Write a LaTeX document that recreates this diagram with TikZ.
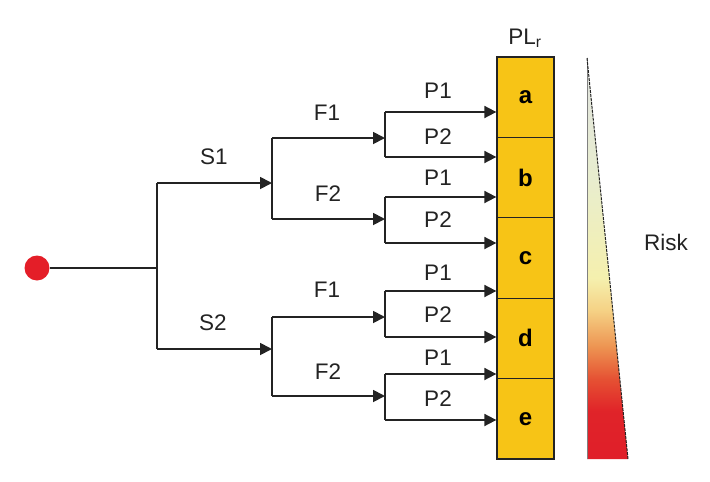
\documentclass[tikz,border=0pt]{standalone}
\usepackage{fontspec}
\setmainfont{Liberation Sans}
\usetikzlibrary{arrows.meta}
\definecolor{boxyellow}{RGB}{247,196,22}
\definecolor{dotred}{RGB}{228,30,40}
\definecolor{linegray}{RGB}{35,35,35}
\pgfdeclareverticalshading{riskshade}{100bp}{rgb(0bp)=(0.88,0.12,0.16); rgb(25bp)=(0.88,0.12,0.16); rgb(31bp)=(0.88,0.14,0.16); rgb(35bp)=(0.90,0.32,0.20); rgb(39bp)=(0.93,0.58,0.32); rgb(43.5bp)=(0.96,0.82,0.52); rgb(47.5bp)=(0.96,0.94,0.68); rgb(60bp)=(0.91,0.93,0.81); rgb(75bp)=(0.88,0.89,0.88); rgb(100bp)=(0.88,0.89,0.88)}
\begin{document}
\begin{tikzpicture}[x=1pt,y=-1pt,
  conn/.style={line width=1.8pt, draw=linegray},
  arr/.style={conn, -{Triangle[length=12pt,width=12pt]}},
  lbl/.style={font=\fontsize{22.5}{26}\selectfont, text=linegray, inner sep=0pt},
  plbox/.style={draw=linegray, line width=1.3pt, fill=boxyellow, minimum width=57pt, minimum height=80.4pt, inner sep=0pt, font=\bfseries\fontsize{24}{28}\selectfont}]
\useasboundingbox (0,0) rectangle (710,482);

% PL boxes
\node[plbox] (ba) at (525.5,97.2) {a};
\node[plbox] (bb) at (525.5,177.6) {b};
\node[plbox] (bc) at (525.5,258) {c};
\node[plbox] (bd) at (525.5,338.4) {d};
\node[plbox] (be) at (525.5,418.8) {e};
\node[lbl] (plr) at (525,38) {PL\textsubscript{r}};

% start
\node[circle, fill=dotred, minimum size=25pt, inner sep=0pt] (start) at (37,268) {};
\coordinate (j0) at (157,268);
\coordinate (s1) at (157,183);
\coordinate (s2) at (157,349);
\draw[conn] (start) -- (j0);
\draw[conn] (s1) -- (s2);

% F level junctions
\coordinate (fa) at (272,183);
\coordinate (fb) at (272,349);
\draw[arr] (s1) -- (fa);
\draw[arr] (s2) -- (fb);
\coordinate (fa1) at (272,138);
\coordinate (fa2) at (272,219);
\coordinate (fb1) at (272,317);
\coordinate (fb2) at (272,396);
\draw[conn] (fa1) -- (fa2);
\draw[conn] (fb1) -- (fb2);

% P level junctions
\coordinate (pa1) at (385,138);
\coordinate (pa2) at (385,219);
\coordinate (pb1) at (385,317);
\coordinate (pb2) at (385,396);
\draw[arr] (fa1) -- (pa1);
\draw[arr] (fa2) -- (pa2);
\draw[arr] (fb1) -- (pb1);
\draw[arr] (fb2) -- (pb2);

\coordinate (q1) at (385,112);
\coordinate (q2) at (385,157);
\coordinate (q3) at (385,197);
\coordinate (q4) at (385,243);
\coordinate (q5) at (385,291);
\coordinate (q6) at (385,337);
\coordinate (q7) at (385,374);
\coordinate (q8) at (385,420);
\draw[conn] (q1) -- (q2);
\draw[conn] (q3) -- (q4);
\draw[conn] (q5) -- (q6);
\draw[conn] (q7) -- (q8);
\draw[arr] (q1) -- (ba.west |- q1);
\draw[arr] (q2) -- (bb.west |- q2);
\draw[arr] (q3) -- (bb.west |- q3);
\draw[arr] (q4) -- (bc.west |- q4);
\draw[arr] (q5) -- (bc.west |- q5);
\draw[arr] (q6) -- (bd.west |- q6);
\draw[arr] (q7) -- (bd.west |- q7);
\draw[arr] (q8) -- (be.west |- q8);

% labels
\node[lbl] (ls1) at (214,157) {S1};
\node[lbl] (ls2) at (213,323) {S2};
\node[lbl] (lf1a) at (327,113) {F1};
\node[lbl] (lf2a) at (328,194) {F2};
\node[lbl] (lf1b) at (327,290) {F1};
\node[lbl] (lf2b) at (328,372) {F2};
\node[lbl] (lp1) at (438,91) {P1};
\node[lbl] (lp2) at (438,137) {P2};
\node[lbl] (lp3) at (438,178) {P1};
\node[lbl] (lp4) at (438,220) {P2};
\node[lbl] (lp5) at (438,273) {P1};
\node[lbl] (lp6) at (438,315) {P2};
\node[lbl] (lp7) at (438,358) {P1};
\node[lbl] (lp8) at (438,399) {P2};

% risk triangle
\shade[shading=riskshade] (587,58) -- (628,459) -- (587,459) -- cycle;
\draw[line width=0.8pt, draw=gray] (587,58) -- (587,459);
\draw[line width=1pt, draw=linegray, dash pattern=on 3pt off 1pt] (587,58) -- (628,459);
\node[lbl] (risk) at (666,242) {Risk};
\end{tikzpicture}
\end{document}
